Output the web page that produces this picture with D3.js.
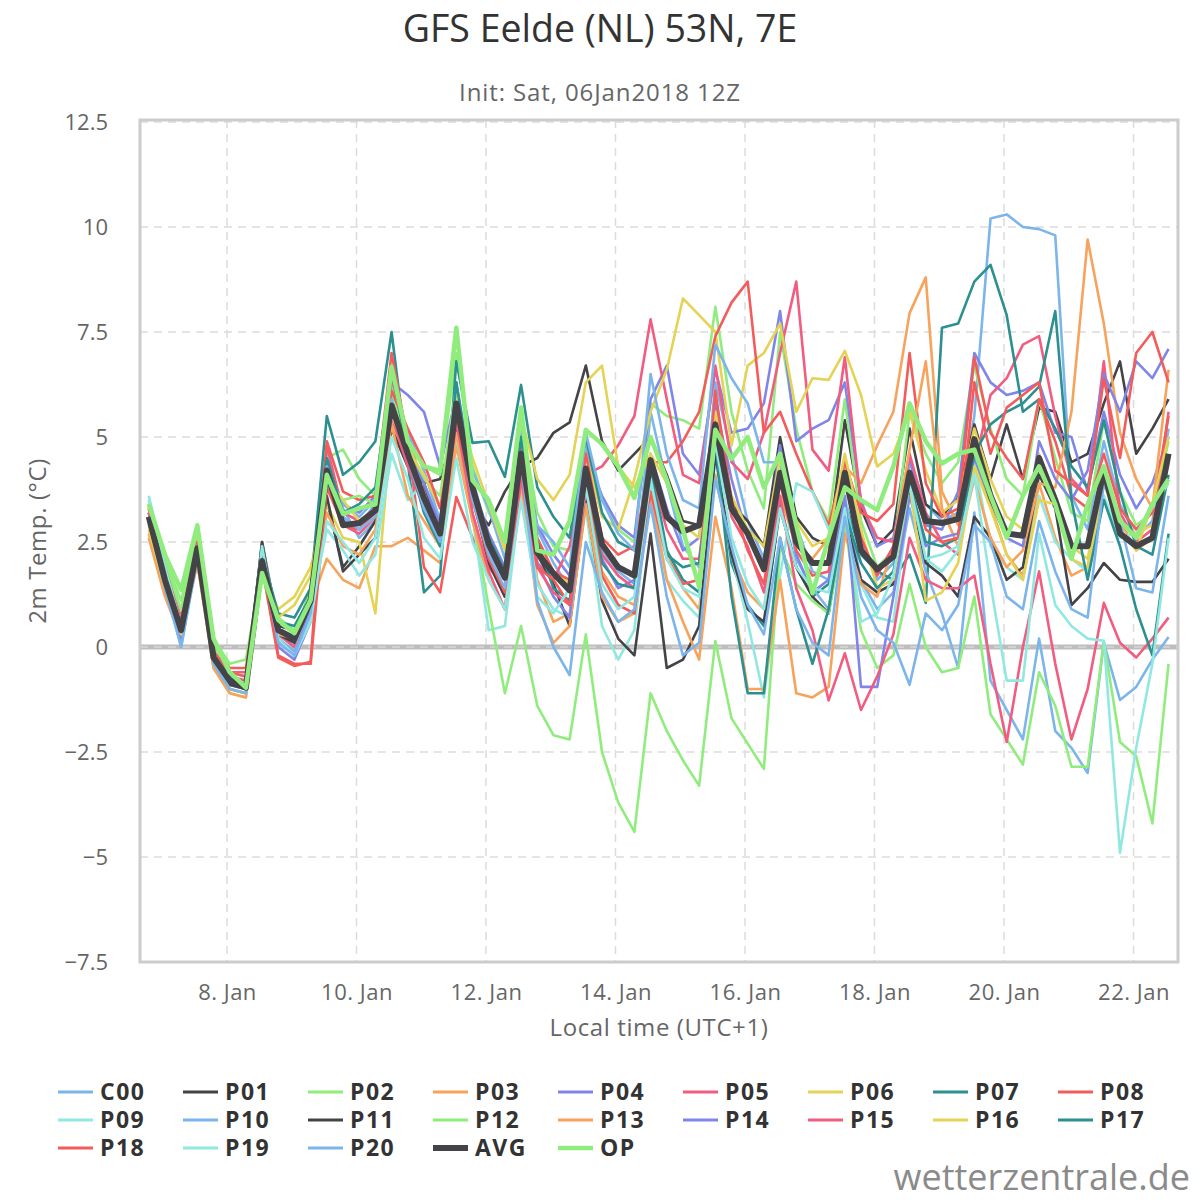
<!DOCTYPE html>
<html lang="de">
<head>
<meta charset="utf-8">
<script src="https://d3js.org/d3.v7.min.js"></script>
<style>
  body { margin: 0; background: #fff; }
  text { font-family: "Open Sans", "DejaVu Sans", sans-serif; }
</style>
</head>
<body>
<script>
const W = 1200, H = 1200;

// lead times (h) after init 06Jan2018 12Z, every 6 h up to 384 h
const leadHours = d3.range(6, 385, 6);
const xTickDays = [8, 10, 12, 14, 16, 18, 20, 22];
const yTicks = [-7.5, -5, -2.5, 0, 2.5, 5, 7.5, 10, 12.5];

const names = ["C00","P01","P02","P03","P04","P05","P06","P07","P08","P09",
               "P10","P11","P12","P13","P14","P15","P16","P17","P18","P19","P20","AVG","OP"];
const colors = ["#7cb5ec","#434348","#90ed7d","#f7a35c","#8085e9","#f15c80","#e4d354","#2b908f","#f45b5b","#91e8e1",
                "#7cb5ec","#434348","#90ed7d","#f7a35c","#8085e9","#f15c80","#e4d354","#2b908f","#f45b5b","#91e8e1",
                "#7cb5ec","#434348","#90ed7d"];

// 2m temperature (°C)
const c00 = [3.0,1.5,0.0,2.2, -0.3,-0.9,-1.0,2.3, 0.3,0.0,1.0,4.6, 3.3,2.6,3.0,6.3, 5.0,3.4,2.6,6.3, 4.0,2.6,1.8,5.2, 2.8,2.0,1.4,4.9, 2.3,1.8,1.5,5.6, 3.9,2.4,1.9,6.3, 4.6,3.0,2.1,4.6, 2.9,1.8,1.6,4.1, 2.5,1.6,2.0,4.4, 3.4,3.0,3.2,5.5, 10.2,10.3,10.0,9.95, 9.8,3.6,2.8,4.9, 3.4,2.6,3.0,5.2];
const p01 = [3.2,1.7,0.5,2.5, -0.2,-0.8,-0.9,2.5, 0.5,0.4,1.3,3.5, 1.9,2.4,3.0,5.9, 4.8,3.9,4.0,5.2, 3.4,2.9,3.7,4.3, 4.5,5.1,5.35,6.7, 4.9,4.2,4.6,5.0, 4.1,3.0,2.9,5.6, 3.4,3.0,2.4,5.0, 3.1,2.6,2.4,5.4, 3.3,2.4,2.8,5.2, 3.4,3.1,3.6,5.3, 4.0,5.3,4.0,5.7, 5.6,4.4,4.6,5.8, 6.8,4.6,5.2,5.9];
const p02 = [3.5,2.1,1.1,2.8, 0.2,-0.4,-0.3,1.9, 0.7,0.4,1.3,4.5, 4.7,4.0,3.6,6.2, 4.9,4.3,4.1,7.0, 4.3,3.2,2.6,5.4, 3.2,2.4,2.3,5.0, 3.5,2.8,2.5,5.8, 5.5,5.4,5.2,8.1, 5.6,4.2,3.3,7.5, 5.2,3.7,3.0,5.9, 3.0,1.9,2.3,5.6, 4.6,3.9,4.4,6.7, 5.2,4.0,3.6,5.9, 4.5,3.2,3.0,5.4, 3.7,2.9,3.2,4.9];
const p03 = [2.7,1.3,0.3,2.0, -0.4,-1.0,-1.1,1.9, 0.1,-0.1,1.0,2.1, 1.6,1.4,2.4,2.4, 2.6,2.3,2.0,4.8, 3.0,2.0,1.2,4.5, 1.6,0.6,0.8,3.6, 1.8,1.2,1.0,3.6, 2.3,1.4,0.9,4.1, 2.2,1.3,0.9,3.6, 2.4,2.1,2.6,4.3, 3.9,4.8,5.6,7.95, 8.8,3.7,2.9,4.5, 3.4,2.2,1.7,3.9, 2.6,1.7,1.9,4.0, 3.0,2.3,2.6,4.4];
const p04 = [3.0,1.6,0.3,2.3, -0.3,-0.9,-1.0,2.0, 0.0,-0.3,0.6,4.2, 3.4,3.2,3.6,6.3, 6.0,5.6,4.3,6.0, 3.9,2.7,1.9,4.9, 2.9,2.2,1.7,4.6, 3.6,2.9,2.6,5.9, 6.7,4.6,4.1,6.6, 5.1,5.2,5.8,8.0, 4.9,5.2,5.4,6.3, 3.5,2.4,2.6,4.5, 2.9,2.8,3.7,7.0, 6.3,6.0,6.1,6.3, 5.1,5.0,3.7,5.6, 4.1,3.3,3.9,5.0];
const p05 = [3.3,1.8,0.5,2.4, -0.1,-0.6,-0.6,1.9, 0.3,0.0,1.2,4.8, 3.2,3.0,3.3,6.4, 5.0,3.8,2.6,5.8, 3.7,2.0,1.2,4.4, 2.0,1.6,2.4,4.1, 4.3,4.8,5.5,7.8, 5.9,4.1,3.9,6.7, 4.4,4.0,5.1,7.0, 8.7,4.7,4.2,6.9, 3.4,2.6,2.5,4.6, 3.2,2.5,2.2,4.3, 6.0,6.4,7.2,7.4, 5.5,4.0,3.6,6.8, 3.2,2.5,2.8,5.6];
const p06 = [2.9,1.4,0.2,2.2, -0.5,-1.1,-1.2,1.8, 0.9,1.2,1.9,3.4, 2.6,2.5,0.8,5.3, 4.3,3.7,2.6,5.5, 3.5,2.4,1.8,5.0, 2.5,1.8,1.5,4.6, 3.1,2.8,4.0,5.6, 6.6,8.3,7.9,7.5, 4.8,6.7,7.0,7.7, 5.6,6.4,6.36,7.05, 6.0,4.3,4.6,5.6, 4.2,3.2,3.5,5.2, 4.0,3.1,2.8,4.6, 3.6,2.4,2.1,4.1, 3.0,2.7,2.9,4.4];
const p07 = [3.0,1.6,0.5,2.3, -0.3,-0.8,-0.9,2.2, 0.8,0.7,1.4,5.5, 4.1,4.4,4.9,7.5, 4.4,1.3,1.7,6.8, 4.86,4.9,4.05,6.24, 3.8,3.1,2.6,5.0, 3.2,2.5,2.3,4.4, 2.3,1.6,1.3,4.6, 2.0,1.0,0.5,3.4, 1.9,1.2,1.5,3.5, 2.2,1.8,1.6,2.2, 1.05,7.6,7.7,8.7, 9.1,7.9,5.6,5.9, 5.2,4.3,3.8,5.4, 3.7,2.4,2.2,4.1];
const p08 = [3.3,1.9,0.7,2.6, 0.0,-0.5,-0.5,1.9, -0.25,-0.45,-0.35,4.9, 3.7,3.5,3.6,7.0, 4.9,1.9,1.3,3.57, 2.6,1.9,1.4,4.8, 2.6,1.8,1.6,4.6, 2.6,2.2,2.4,4.4, 4.4,4.9,5.6,7.4, 8.2,8.7,5.1,5.6, 4.6,3.7,2.9,4.4, 3.2,3.0,3.4,7.0, 3.9,3.1,3.3,6.9, 5.1,4.5,4.0,5.9, 4.9,3.6,3.3,4.6, 3.3,2.8,3.2,5.5];
const p09 = [3.6,2.0,0.6,2.4, -0.1,-0.7,-0.9,2.5, 0.4,0.1,0.9,2.8, 2.3,1.7,2.2,4.6, 3.5,3.9,3.0,5.0, 3.1,0.4,0.5,3.7, 1.5,0.9,0.7,3.3, 0.5,-0.3,0.4,3.9, 1.6,1.1,0.7,4.5, 2.2,0.6,-1.2,1.7, 3.9,3.7,2.8,3.6, 1.5,0.7,0.6,3.6, 2.1,1.8,2.3,4.4, 2.4,1.9,1.6,3.6, 2.5,2.1,1.8,3.6, 2.6,2.7,3.3,3.9];
const p10 = [3.2,1.6,0.1,2.2, -0.3,-0.9,-1.0,2.2, 0.2,-0.1,0.8,4.0, 3.4,3.1,3.5,6.1, 5.1,4.2,3.0,6.0, 4.2,3.3,2.1,4.5, 2.9,2.5,1.9,5.1, 3.5,2.7,2.3,6.5, 4.6,3.5,3.3,7.2, 6.4,5.8,4.4,4.4, 2.1,1.4,0.9,3.5, 1.6,0.9,1.3,3.3, 1.8,0.8,-0.5,3.2, -0.8,-1.5,-2.2,0.2, -2.0,-2.4,-3.0,0.1, -1.26,-0.95,-0.3,0.24];
const p11 = [3.0,1.5,0.3,2.5, -0.3,-0.9,-1.0,2.5, 0.3,0.1,1.0,3.6, 1.8,2.2,2.6,5.2, 4.3,3.9,2.7,5.3, 3.6,2.0,1.2,4.2, 2.2,1.5,0.5,3.5, 1.1,0.2,-0.2,2.7, -0.5,-0.3,0.5,4.6, 2.2,0.9,0.6,3.3, 1.9,1.2,0.8,3.1, 1.6,1.3,1.5,3.8, 2.0,1.7,1.2,3.1, 2.6,1.6,1.9,4.1, 3.3,1.0,1.4,2.0, 1.6,1.55,1.55,2.1];
const p12 = [3.4,2.0,0.9,2.7, 0.0,-0.6,-0.7,1.8, 0.6,0.3,1.2,4.0, 3.5,3.6,3.4,6.0, 4.8,4.0,3.6,6.2, 3.1,0.95,-1.1,0.5, -1.4,-2.1,-2.2,0.3, -2.5,-3.7,-4.4,-1.1, -2.0,-2.7,-3.3,0.14, -1.7,-2.3,-2.9,2.4, 1.5,1.1,0.8,2.9, 0.4,-0.5,-0.2,1.5, 0.0,-0.6,-0.5,1.2, -1.6,-2.2,-2.8,-0.6, -1.4,-2.85,-2.85,0.14, -2.26,-2.6,-4.2,-0.4];
const p13 = [2.6,1.2,0.2,2.0, -0.5,-1.1,-1.2,1.8, 0.3,0.2,1.0,3.2, 2.4,2.2,2.8,5.3, 3.6,3.0,2.4,5.1, 3.0,1.6,0.9,3.9, 1.0,0.1,0.5,3.4, 1.2,0.6,0.8,3.6, 1.6,0.6,-0.3,3.1, 1.4,-1.0,-1.0,1.6, -1.1,-1.2,-0.95,2.7, 1.5,1.2,2.4,4.7, 6.8,3.3,2.4,4.0, 2.6,1.9,2.3,3.9, 3.8,5.6,9.7,7.7, 5.1,4.0,3.3,6.6];
const p14 = [3.1,1.5,0.2,2.2, -0.4,-1.0,-1.1,2.1, 0.2,-0.2,0.9,3.9, 3.0,2.9,3.4,5.6, 4.6,3.9,2.9,5.4, 3.6,2.3,1.6,4.2, 2.0,1.2,0.7,3.9, 2.1,1.4,1.6,4.6, 3.3,2.3,2.6,5.8, 4.0,2.6,1.9,4.8, 2.2,1.3,1.6,3.6, -0.95,-0.95,1.2,3.6, 2.4,2.6,2.7,4.5, 3.5,2.6,2.4,4.9, 4.0,3.5,4.2,6.5, 5.6,6.8,6.4,7.1];
const p15 = [3.2,1.6,0.4,2.3, -0.2,-0.7,-0.8,2.0, 0.4,0.2,1.0,4.4, 2.9,2.7,3.1,5.5, 4.3,3.3,2.4,5.4, 3.2,1.8,0.9,4.0, 1.9,1.3,1.0,3.7, 2.2,1.7,1.4,4.2, 2.8,2.1,2.1,5.0, 3.1,2.4,1.3,3.6, 1.4,0.4,-1.27,-0.15, -1.5,-0.7,0.3,2.6, 1.6,1.4,1.4,1.7, -0.4,-2.26,0.0,1.8, -0.4,-2.2,-1.0,1.05, 0.1,-0.25,0.2,0.7];
const p16 = [2.8,1.4,0.3,2.1, -0.4,-1.0,-1.1,1.9, 0.7,1.0,1.7,4.0, 3.5,3.0,3.3,5.5, 4.7,4.1,3.3,5.9, 4.5,3.4,2.3,5.5, 4.0,3.5,4.1,6.3, 6.7,4.3,3.8,4.6, 3.9,2.9,2.6,5.6, 3.6,2.8,2.4,4.5, 3.0,2.4,2.6,4.6, 2.8,1.4,1.6,3.9, 1.1,1.3,2.0,4.3, 3.3,2.2,1.6,3.5, 3.4,2.1,1.9,3.9, 2.8,2.3,3.4,5.0];
const p17 = [3.1,1.7,0.4,2.4, -0.2,-0.7,-0.9,2.3, 0.6,0.5,1.2,4.5, 3.2,3.4,3.8,6.6, 4.6,3.2,2.4,6.3, 3.9,2.6,1.8,5.0, 2.5,1.4,1.1,4.0, 2.0,1.5,1.4,4.2, 2.2,1.9,2.0,4.9, 1.2,-1.1,-1.1,2.6, 0.9,-0.4,0.9,3.2, 2.0,1.4,1.8,3.9, 2.5,2.4,2.6,4.6, 5.3,5.6,5.8,6.2, 8.0,3.5,1.6,3.5, 2.4,0.9,-0.2,2.7];
const p18 = [3.4,1.9,0.6,2.5, -0.1,-0.6,-0.7,2.0, -0.2,-0.4,-0.4,3.8, 2.9,2.8,3.2,6.1, 5.2,4.4,3.3,5.5, 3.5,2.1,1.3,4.3, 1.9,1.6,1.0,3.9, 1.7,1.0,0.8,3.7, 2.1,1.5,1.6,6.1, 3.5,2.3,1.5,3.9, 2.3,1.7,1.8,3.9, 2.6,1.7,2.4,4.2, 2.8,2.5,2.6,6.3, 4.6,5.7,6.0,6.3, 4.2,3.9,3.6,6.4, 4.5,7.0,7.5,6.3];
const p19 = [3.5,1.9,0.5,2.4, -0.2,-0.8,-1.0,2.4, 0.2,-0.2,0.6,3.0, 2.5,2.0,2.6,5.0, 4.0,2.6,2.1,4.5, 2.5,1.6,0.9,3.5, 1.2,0.8,1.4,3.8, 1.5,0.9,1.2,4.0, 2.1,1.4,1.2,4.9, 2.6,1.5,0.9,3.3, 1.9,1.4,1.3,3.3, 0.6,0.8,1.7,3.9, 2.1,2.2,2.4,4.1, 1.5,-0.8,-0.8,2.7, 1.0,0.5,0.2,0.15, -4.9,-2.4,-0.4,2.6];
const p20 = [3.0,1.4,0.0,2.1, -0.4,-1.0,-1.1,2.0, 0.1,-0.2,0.8,4.3, 3.1,2.8,3.1,5.9, 4.5,3.3,2.5,5.7, 3.5,2.2,1.4,4.4, 1.1,0.0,-0.67,2.5, 1.3,0.6,0.9,3.4, 1.2,-0.2,0.1,4.0, 2.4,1.0,0.3,2.6, 0.9,0.1,-0.2,3.1, 1.2,0.4,0.1,-0.9, 0.8,0.4,1.0,2.9, 2.5,1.2,0.9,3.0, 1.8,0.9,0.7,3.9, 3.0,1.4,1.3,3.6];
const avg = [3.1,1.6,0.4,2.35, -0.25,-0.8,-0.97,2.05, 0.4,0.2,1.1,4.2, 2.9,2.95,3.25,5.75, 4.6,3.55,2.7,5.8, 3.8,2.45,1.65,4.6, 2.25,1.75,1.35,4.25, 2.45,1.9,1.7,4.45, 3.1,2.75,2.9,5.3, 3.3,2.7,1.85,4.15, 2.5,2.0,2.0,4.15, 2.3,1.85,2.15,4.15, 3.0,2.95,3.05,4.95, 3.6,2.7,2.65,4.5, 3.5,2.4,2.4,4.2, 2.7,2.4,2.6,4.6];
const op = [3.4,2.2,1.36,2.9, 0.2,-0.6,-0.97,1.76, 0.64,0.33,1.12,4.1, 3.17,3.3,3.4,6.67, 4.9,4.3,4.2,7.6, 3.97,3.5,2.5,5.7, 2.3,2.2,3.0,5.17, 4.83,4.3,3.55,5.0, 3.98,2.78,1.43,5.17, 4.48,5.0,3.8,4.6, 2.9,1.28,2.6,3.8, 3.5,3.26,4.3,5.8, 4.9,4.37,4.6,4.7, 3.6,2.6,3.6,4.3, 3.4,2.1,3.4,4.3, 3.0,2.6,3.4,4.0];

const series = [c00,p01,p02,p03,p04,p05,p06,p07,p08,p09,p10,p11,p12,p13,p14,p15,p16,p17,p18,p19,p20,avg,op];

// local time (UTC+1), kept as UTC dates so the axis shows local clock
const initMs = Date.UTC(2018, 0, 6, 12);
const times = leadHours.map(h => new Date(initMs + (h + 1) * 3600e3));

const plot = { left: 140, top: 120, right: 1178, bottom: 962 };

const svg = d3.select("body").append("svg")
  .attr("width", W).attr("height", H)
  .style("background", "#fff");

const x = d3.scaleUtc()
  .domain([new Date(Date.UTC(2018, 0, 8)), new Date(Date.UTC(2018, 0, 22))])
  .range([227, 1133.5]);
const y = d3.scaleLinear().domain([-7.5, 12.5]).range([plot.bottom, plot.top + 2]);

// title
svg.append("text").attr("x", 600).attr("y", 42).attr("text-anchor", "middle")
  .attr("font-size", 37.5).attr("fill", "#333").text("GFS Eelde (NL) 53N, 7E");
svg.append("text").attr("x", 600).attr("y", 101).attr("text-anchor", "middle")
  .attr("font-size", 24).attr("letter-spacing", 0.9).attr("fill", "#666")
  .text("Init: Sat, 06Jan2018 12Z");

// grid
const grid = svg.append("g");
grid.selectAll(".hg").data(yTicks).enter().append("line")
  .attr("x1", plot.left).attr("x2", plot.right)
  .attr("y1", d => y(d)).attr("y2", d => y(d))
  .attr("stroke", "#dcdcdc").attr("stroke-width", 1.5).attr("stroke-dasharray", "8,6");
grid.selectAll(".vg").data(xTickDays).enter().append("line")
  .attr("x1", d => x(new Date(Date.UTC(2018, 0, d)))).attr("x2", d => x(new Date(Date.UTC(2018, 0, d))))
  .attr("y1", plot.top).attr("y2", plot.bottom)
  .attr("stroke", "#dcdcdc").attr("stroke-width", 1.5).attr("stroke-dasharray", "8,6");

// zero line
svg.append("line").attr("x1", plot.left).attr("x2", plot.right)
  .attr("y1", y(0)).attr("y2", y(0))
  .attr("stroke", "#bdbdbd").attr("stroke-width", 5);
svg.append("line").attr("x1", plot.left).attr("x2", plot.right)
  .attr("y1", y(0)).attr("y2", y(0))
  .attr("stroke", "#e6e6e6").attr("stroke-width", 1.2).attr("stroke-dasharray", "8,6");

// axes
const yAxis = svg.append("g").attr("transform", `translate(${plot.left - 29},0)`)
  .call(d3.axisLeft(y).tickValues(yTicks).tickSize(0)
    .tickFormat(d => (d < 0 ? "\u2212" : "") + Math.abs(d)));
yAxis.select(".domain").remove();
yAxis.selectAll("text").attr("font-size", 22).attr("fill", "#666")
  .attr("font-family", "Open Sans, DejaVu Sans, sans-serif").attr("dy", "0.35em");

const xAxis = svg.append("g").attr("transform", `translate(0,${plot.bottom + 19})`)
  .call(d3.axisBottom(x).tickValues(xTickDays.map(d => new Date(Date.UTC(2018, 0, d))))
    .tickSize(0).tickFormat(d3.utcFormat("%-d. %b")));
xAxis.select(".domain").remove();
xAxis.selectAll("text").attr("font-size", 22).attr("letter-spacing", 0.5).attr("fill", "#666")
  .attr("font-family", "Open Sans, DejaVu Sans, sans-serif");

svg.append("text").attr("x", (plot.left + plot.right) / 2).attr("y", 1036)
  .attr("text-anchor", "middle").attr("font-size", 24).attr("letter-spacing", 0.6).attr("fill", "#666")
  .text("Local time (UTC+1)");
svg.append("text").attr("transform", `translate(46,${(plot.top + plot.bottom) / 2}) rotate(-90)`)
  .attr("text-anchor", "middle").attr("font-size", 24).attr("letter-spacing", 0.6).attr("fill", "#666")
  .text("2m Temp. (°C)");

// lines
svg.append("clipPath").attr("id", "clip").append("rect")
  .attr("x", plot.left).attr("y", plot.top)
  .attr("width", plot.right - plot.left).attr("height", plot.bottom - plot.top);

const line = d3.line().x((d, i) => x(times[i])).y(d => y(d));
const widthOf = n => n === "AVG" ? 6 : (n === "OP" ? 4.5 : 2.6);

svg.append("g").attr("clip-path", "url(#clip)")
  .selectAll("path").data(series).enter().append("path")
  .attr("d", d => line(d))
  .attr("fill", "none")
  .attr("stroke", (d, i) => colors[i])
  .attr("stroke-width", (d, i) => widthOf(names[i]))
  .attr("stroke-linejoin", "round");

// plot frame
svg.append("rect").attr("x", plot.left).attr("y", plot.top)
  .attr("width", plot.right - plot.left).attr("height", plot.bottom - plot.top)
  .attr("fill", "none").attr("stroke", "#cccccc").attr("stroke-width", 3);

// legend
const legend = svg.append("g").selectAll("g").data(names).enter().append("g")
  .attr("transform", (d, i) => `translate(${58 + (i % 9) * 125},${1092 + Math.floor(i / 9) * 28})`);
legend.append("line").attr("x1", 0).attr("x2", 35)
  .attr("stroke", (d, i) => colors[i])
  .attr("stroke-width", d => d === "AVG" ? 6 : (d === "OP" ? 4.5 : 3));
legend.append("text").attr("x", 42).attr("dy", "0.36em")
  .attr("font-size", 23).attr("letter-spacing", 1.5).attr("font-weight", "bold").attr("fill", "#333")
  .text(d => d);

// watermark
svg.append("text").attr("x", 1190).attr("y", 1190).attr("text-anchor", "end")
  .attr("font-size", 36).attr("fill", "#8a8a8a").text("wetterzentrale.de");
</script>
</body>
</html>
